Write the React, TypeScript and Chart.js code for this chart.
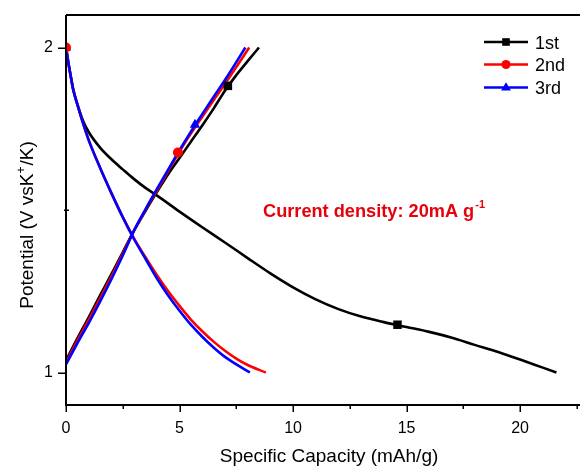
import React, { useEffect, useRef } from 'react';
import { Chart, registerables } from 'chart.js';

Chart.register(...registerables);

// ---- axis ranges & ticks ----
const xMin = 0;
const xMax = 22.55;
const yMin = 0.9;
const yMax = 2.1;
const xMajorTicks = [0, 5, 10, 15, 20];
const xMinorTicks = [2.5, 7.5, 12.5, 17.5, 22.5];
const yMajorTicks = [1, 2];
const yMinorTicks = [1.5];

// ---- series names / colours ----
const seriesNames = ['1st', '2nd', '3rd'];
const seriesColors = ['#000000', '#ff0000', '#0000ff'];
const seriesMarkers = ['rect', 'circle', 'triangle'];

// ---- 1st cycle ----
const cap1Dis = [0, 0.1, 0.2, 0.32, 0.5, 0.75, 1.0, 1.5, 2.0, 2.5, 3.0, 3.5, 4.0, 5.0, 6.0, 7.0, 8.0, 9.0, 10.0, 11.0, 12.0, 13.0, 14.0, 15.0, 16.0, 17.0, 18.0, 19.0, 20.0, 21.0, 21.6];
const pot1Dis = [2.0, 1.955, 1.915, 1.87, 1.826, 1.775, 1.74, 1.692, 1.656, 1.625, 1.595, 1.568, 1.545, 1.495, 1.447, 1.4, 1.352, 1.305, 1.262, 1.225, 1.195, 1.172, 1.155, 1.14, 1.125, 1.107, 1.085, 1.064, 1.04, 1.015, 1.0];
const cap1Chg = [0, 0.5, 1.0, 1.5, 2.0, 2.5, 3.0, 3.5, 4.0, 4.5, 5.0, 5.5, 6.0, 6.5, 7.0, 7.5, 8.0, 8.5];
const pot1Chg = [1.037, 1.105, 1.17, 1.237, 1.303, 1.37, 1.437, 1.497, 1.555, 1.61, 1.66, 1.71, 1.76, 1.812, 1.867, 1.915, 1.958, 2.0];
const mark1Cap = [7.13, 14.6];
const mark1Pot = [1.882, 1.147];

// ---- 2nd cycle ----
const cap2Dis = [0, 0.1, 0.2, 0.32, 0.5, 0.75, 1.0, 1.5, 2.0, 2.5, 3.0, 3.5, 4.0, 4.5, 5.0, 5.5, 6.0, 6.5, 7.0, 7.5, 8.0, 8.8];
const pot2Dis = [2.0, 1.955, 1.915, 1.87, 1.825, 1.767, 1.715, 1.63, 1.552, 1.478, 1.412, 1.355, 1.3, 1.25, 1.205, 1.163, 1.127, 1.095, 1.067, 1.043, 1.023, 1.0];
const cap2Chg = [0, 0.5, 1.0, 1.5, 2.0, 2.5, 3.0, 3.5, 4.0, 4.5, 5.0, 5.5, 6.0, 6.5, 7.0, 7.5, 8.07];
const pot2Chg = [1.03, 1.098, 1.162, 1.228, 1.295, 1.365, 1.437, 1.5, 1.56, 1.62, 1.68, 1.735, 1.787, 1.838, 1.888, 1.94, 2.0];
const mark2Cap = [0, 4.93];
const mark2Pot = [2.0, 1.677];

// ---- 3rd cycle ----
const cap3Dis = [0, 0.1, 0.2, 0.32, 0.5, 0.75, 1.0, 1.5, 2.0, 2.5, 3.0, 3.5, 4.0, 4.5, 5.0, 5.5, 6.0, 6.5, 7.0, 7.5, 8.1];
const pot3Dis = [2.0, 1.955, 1.915, 1.87, 1.825, 1.767, 1.715, 1.63, 1.552, 1.478, 1.41, 1.35, 1.29, 1.237, 1.19, 1.147, 1.11, 1.077, 1.048, 1.025, 1.0];
const cap3Chg = [0, 0.5, 1.0, 1.5, 2.0, 2.5, 3.0, 3.5, 4.0, 4.5, 5.0, 5.5, 6.0, 6.5, 7.0, 7.5, 7.9];
const pot3Chg = [1.025, 1.09, 1.152, 1.218, 1.287, 1.36, 1.437, 1.502, 1.564, 1.624, 1.684, 1.741, 1.795, 1.848, 1.9, 1.955, 2.0];
const mark3Cap = [0, 5.68];
const mark3Pot = [2.0, 1.762];

// ---- texts ----
const xTitle = 'Specific Capacity (mAh/g)';
const yTitleParts = [
  { text: 'Potential (V vsK', sup: false },
  { text: '+', sup: true },
  { text: '/K)', sup: false },
];
const noteMain = 'Current density: 20mA g';
const noteSup = '-1';

const FONT = "'Liberation Sans', Arial, sans-serif";

const zip = (xs: number[], ys: number[]) => xs.map((x, i) => ({ x, y: ys[i] }));

function drawMarker(ctx: CanvasRenderingContext2D, style: string, x: number, y: number, color: string) {
  ctx.save();
  ctx.fillStyle = color;
  ctx.beginPath();
  if (style === 'rect') {
    ctx.rect(x - 3.8, y - 3.8, 7.6, 7.6);
  } else if (style === 'circle') {
    ctx.arc(x, y, 4.6, 0, Math.PI * 2);
  } else {
    const r = 5.2;
    ctx.moveTo(x, y - r);
    ctx.lineTo(x + r * 0.95, y + r * 0.6);
    ctx.lineTo(x - r * 0.95, y + r * 0.6);
    ctx.closePath();
  }
  ctx.fill();
  ctx.restore();
}

const decorPlugin = {
  id: 'decor',
  afterDraw(chart: any) {
    const ctx: CanvasRenderingContext2D = chart.ctx;
    const xs = chart.scales.x;
    const ys = chart.scales.y;
    const { left, right, top, bottom } = chart.chartArea;
    ctx.save();
    // frame
    ctx.strokeStyle = '#000';
    ctx.lineWidth = 2;
    ctx.beginPath();
    ctx.moveTo(left, top);
    ctx.lineTo(right + 2, top);
    ctx.moveTo(left, top);
    ctx.lineTo(left, bottom);
    ctx.lineTo(right + 2, bottom);
    ctx.stroke();
    // tick marks
    ctx.lineWidth = 1.5;
    ctx.beginPath();
    xMajorTicks.forEach((v) => {
      const px = Math.round(xs.getPixelForValue(v)) + 0.25;
      ctx.moveTo(px, bottom);
      ctx.lineTo(px, bottom + 7);
    });
    xMinorTicks.forEach((v) => {
      const px = Math.round(xs.getPixelForValue(v)) + 0.25;
      ctx.moveTo(px, bottom);
      ctx.lineTo(px, bottom + 4);
    });
    yMajorTicks.forEach((v) => {
      const py = Math.round(ys.getPixelForValue(v)) + 0.25;
      ctx.moveTo(left, py);
      ctx.lineTo(left - 8, py);
    });
    yMinorTicks.forEach((v) => {
      const py = Math.round(ys.getPixelForValue(v)) + 0.25;
      ctx.moveTo(left - 2, py);
      ctx.lineTo(left + 3, py);
    });
    ctx.stroke();

    // x title
    ctx.fillStyle = '#000';
    ctx.font = `19px ${FONT}`;
    ctx.textAlign = 'center';
    ctx.textBaseline = 'alphabetic';
    ctx.fillText(xTitle, 329, 462);

    // y title (rotated, with superscript)
    ctx.save();
    ctx.translate(33, 225);
    ctx.rotate(-Math.PI / 2);
    ctx.textAlign = 'left';
    const mainFont = `19px ${FONT}`;
    const supFont = `12px ${FONT}`;
    let total = 0;
    yTitleParts.forEach((p) => {
      ctx.font = p.sup ? supFont : mainFont;
      total += ctx.measureText(p.text).width + (p.sup ? 1 : 0);
    });
    let cx = -total / 2;
    yTitleParts.forEach((p) => {
      ctx.font = p.sup ? supFont : mainFont;
      ctx.fillText(p.text, cx, p.sup ? -8 : 0);
      cx += ctx.measureText(p.text).width + (p.sup ? 1 : 0);
    });
    ctx.restore();

    // annotation
    ctx.fillStyle = '#e8000b';
    ctx.textAlign = 'left';
    ctx.font = `bold 18.2px ${FONT}`;
    ctx.fillText(noteMain, 263, 217);
    const w = ctx.measureText(noteMain).width;
    ctx.font = `bold 11px ${FONT}`;
    ctx.fillText(noteSup, 263 + w + 1, 208);

    // legend
    const rows = [42, 64.5, 87.5];
    seriesNames.forEach((name, i) => {
      const y = rows[i];
      ctx.strokeStyle = seriesColors[i];
      ctx.lineWidth = 2.5;
      ctx.beginPath();
      ctx.moveTo(484, y);
      ctx.lineTo(528, y);
      ctx.stroke();
      drawMarker(ctx, seriesMarkers[i], 506, y, seriesColors[i]);
      ctx.fillStyle = '#000';
      ctx.font = `18px ${FONT}`;
      ctx.textAlign = 'left';
      ctx.textBaseline = 'alphabetic';
      ctx.fillText(name, 535, y + 6.5);
    });
    ctx.restore();
  },
};

const whiteBg = {
  id: 'whiteBg',
  beforeDraw(chart: any) {
    const ctx = chart.ctx;
    ctx.save();
    ctx.fillStyle = '#ffffff';
    ctx.fillRect(0, 0, chart.width, chart.height);
    ctx.restore();
  },
};

export default function App() {
  const ref = useRef<HTMLCanvasElement | null>(null);

  useEffect(() => {
    if (!ref.current) return;
    const lineDs = (label: string, xs: number[], ys: number[], color: string, order: number) => ({
      label,
      data: zip(xs, ys),
      borderColor: color,
      backgroundColor: color,
      borderWidth: 2.6,
      pointRadius: 0,
      pointHoverRadius: 0,
      cubicInterpolationMode: 'monotone' as const,
      fill: false,
      order,
    });
    const markDs = (label: string, xs: number[], ys: number[], color: string, style: string, radius: number, order: number) => ({
      label,
      data: zip(xs, ys),
      borderColor: color,
      backgroundColor: color,
      showLine: false,
      pointStyle: style,
      pointRadius: radius,
      pointBorderWidth: 0,
      pointHoverRadius: radius,
      order,
    });

    const chart = new Chart(ref.current, {
      type: 'line',
      data: {
        datasets: [
          markDs('1st markers', mark1Cap, mark1Pot, seriesColors[0], 'rect', 6, -3),
          markDs('2nd markers', mark2Cap, mark2Pot, seriesColors[1], 'circle', 5, -2),
          markDs('3rd markers', mark3Cap, mark3Pot, seriesColors[2], 'triangle', 6, -1),
          lineDs('1st discharge', cap1Dis, pot1Dis, seriesColors[0], 6),
          lineDs('1st charge', cap1Chg, pot1Chg, seriesColors[0], 5),
          lineDs('2nd discharge', cap2Dis, pot2Dis, seriesColors[1], 4),
          lineDs('2nd charge', cap2Chg, pot2Chg, seriesColors[1], 3),
          lineDs('3rd discharge', cap3Dis, pot3Dis, seriesColors[2], 2),
          lineDs('3rd charge', cap3Chg, pot3Chg, seriesColors[2], 1),
        ] as any,
      },
      options: {
        responsive: false,
        animation: false,
        devicePixelRatio: 1,
        layout: { padding: { top: 15, right: 0, left: 0, bottom: 0 } },
        plugins: {
          legend: { display: false },
          tooltip: { enabled: false },
        },
        scales: {
          x: {
            type: 'linear',
            min: xMin,
            max: xMax,
            grid: { display: false, drawTicks: false },
            border: { display: false },
            ticks: {
              stepSize: 5,
              includeBounds: false,
              padding: 14,
              color: '#000',
              font: { family: FONT, size: 16 },
              maxRotation: 0,
              autoSkip: false,
            },
            afterFit: (s: any) => {
              s.height = 63;
              s.paddingLeft = 0;
              s.paddingRight = 0;
            },
          },
          y: {
            type: 'linear',
            min: yMin,
            max: yMax,
            grid: { display: false, drawTicks: false },
            border: { display: false },
            ticks: {
              stepSize: 1,
              includeBounds: false,
              padding: 13,
              color: '#000',
              font: { family: FONT, size: 16 },
            },
            afterFit: (s: any) => {
              s.width = 66;
              s.paddingTop = 0;
              s.paddingBottom = 0;
            },
          },
        },
      },
      plugins: [whiteBg, decorPlugin],
    });
    return () => chart.destroy();
  }, []);

  return (
    <div style={{ position: 'fixed', left: 0, top: 0, width: 584, height: 468, background: '#fff' }}>
      <canvas ref={ref} width={584} height={468} style={{ display: 'block', width: 584, height: 468 }} />
    </div>
  );
}
